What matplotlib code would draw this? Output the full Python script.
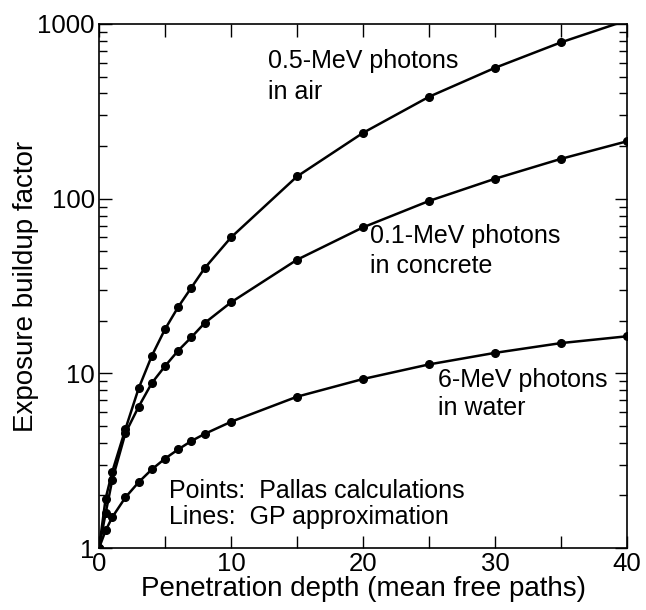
import matplotlib.pyplot as plt
from matplotlib.ticker import MultipleLocator, LogLocator, NullFormatter

plt.rcParams['font.family'] = ['Liberation Sans', 'DejaVu Sans']

# penetration depth (mean free paths)
depth = [0, 0.5, 1, 2, 3, 4, 5, 6, 7, 8, 10, 15, 20, 25, 30, 35, 40]

# exposure buildup factors
airHalfMeV = [1, 1.92, 2.73, 4.8, 8.2, 12.6, 17.9, 24, 31, 40, 60, 134, 238, 383, 561, 785, 1050]
concreteTenthMeV = [1, 1.58, 2.45, 4.55, 6.44, 8.8, 11.0, 13.5, 16.1, 19.4, 25.5, 44.7, 68.5, 97, 130, 169, 213]
waterSixMeV = [1, 1.26, 1.50, 1.95, 2.38, 2.82, 3.25, 3.67, 4.10, 4.50, 5.28, 7.35, 9.28, 11.25, 13.1, 14.9, 16.3]

series = [airHalfMeV, concreteTenthMeV, waterSixMeV]

# label lines and their baselines (x in mean free paths, y in buildup factor)
labelLines = [
	('0.5-MeV photons', 12.8, 559), ('in air', 12.8, 370),
	('0.1-MeV photons', 20.5, 55.5), ('in concrete', 20.5, 37.4),
	('6-MeV photons', 25.7, 8.38), ('in water', 25.7, 5.77),
	('Points:  Pallas calculations', 5.3, 1.94), ('Lines:  GP approximation', 5.3, 1.37),
]

fig = plt.figure(figsize=(6.46, 6.10), dpi=100)
ax = fig.add_axes([0.1533, 0.1016, 0.8173, 0.8591])

for ys in series:
	ax.plot(depth, ys, '-o', color='black', lw=1.8, ms=5.5)

ax.set_yscale('log')
ax.set_xlim(0, 40)
ax.set_ylim(1, 1000)

ax.xaxis.set_major_locator(MultipleLocator(10))
ax.xaxis.set_minor_locator(MultipleLocator(5))
ax.yaxis.set_minor_locator(LogLocator(base=10, subs=range(2, 10)))
ax.yaxis.set_minor_formatter(NullFormatter())
ax.set_yticks([1, 10, 100, 1000])
ax.set_yticklabels(['1', '10', '100', '1000'])

ax.tick_params(which='both', direction='in', top=True, right=True, labelsize=18.5, pad=3)
ax.tick_params(which='major', length=9, width=1.0)
ax.tick_params(which='minor', length=6, width=1.0)
ax.tick_params(axis='x', which='minor', length=9)

for s in ax.spines.values():
	s.set_linewidth(1.2)

ax.set_xlabel('Penetration depth (mean free paths)', fontsize=20, labelpad=0)
ax.set_ylabel('Exposure buildup factor', fontsize=20, labelpad=-1)

for text, tx, ty in labelLines:
	ax.text(tx, ty, text, fontsize=18, ha='left', va='baseline')

plt.savefig('out.png', dpi=100)
